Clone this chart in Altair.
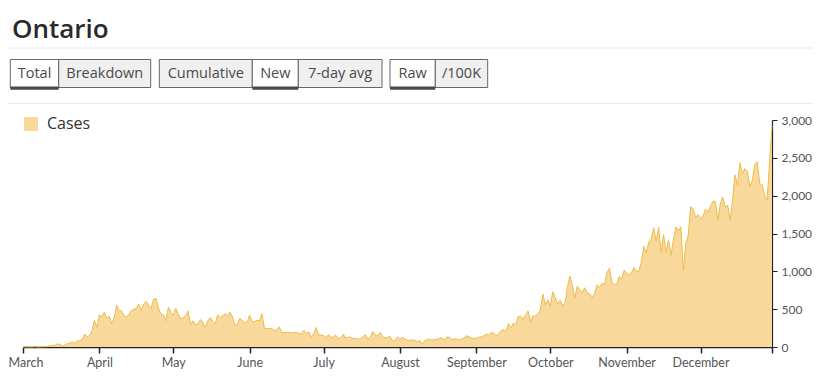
import altair as alt
import pandas as pd

# ---- data: Ontario daily new COVID-19 cases, 1 Mar - 30 Dec 2020 ----
march = [0, 3, 2, 0, 2, 6, 0, 1, 3, 4, 5, 18, 20, 24, 42, 32, 12, 25, 44, 50, 69, 48, 78, 85,
         100, 170, 135, 151, 211, 351, 260]
april = [426, 401, 462, 375, 408, 309, 379, 550, 483, 478, 411, 401, 421, 483, 494, 514, 564, 485,
         568, 606, 551, 510, 634, 640, 511, 437, 424, 347, 525, 459]
may = [421, 511, 434, 370, 387, 412, 477, 294, 346, 294, 308, 361, 329, 258, 345, 391, 340, 304,
       427, 390, 413, 441, 412, 460, 404, 287, 292, 383, 344, 323, 326]
june = [420, 335, 338, 356, 344, 440, 243, 245, 240, 245, 215, 230, 265, 195, 190, 195, 190, 185,
        190, 195, 180, 175, 220, 180, 200, 125, 175, 257, 158, 158]
july = [153, 121, 165, 121, 138, 154, 112, 118, 170, 116, 130, 129, 111, 116, 102, 111, 135, 164,
        103, 135, 203, 165, 146, 195, 134, 119, 129, 137, 76, 89, 134]
august = [101, 129, 102, 91, 86, 95, 88, 70, 90, 33, 83, 95, 105, 88, 101, 100, 115, 125, 90, 130,
          131, 100, 105, 108, 95, 106, 118, 148, 138, 121, 114]
september = [114, 130, 132, 148, 169, 158, 190, 185, 149, 170, 213, 232, 204, 313, 251, 315, 293,
             401, 407, 365, 425, 478, 335, 409, 409, 435, 491, 700, 554, 625]
october = [538, 732, 653, 566, 615, 548, 583, 797, 939, 809, 649, 807, 746, 721, 783, 712, 704, 658,
           704, 821, 790, 841, 826, 978, 1042, 851, 827, 834, 934, 896, 1015]
november = [977, 948, 987, 1050, 998, 1003, 1132, 1328, 1242, 1388, 1426, 1575, 1396, 1581, 1248,
            1487, 1249, 1417, 1210, 1418, 1588, 1534, 1589, 1009, 1373, 1478, 1855, 1822, 1708, 1746]
december = [1707, 1723, 1824, 1780, 1859, 1924, 1925, 1676, 1890, 1983, 1848, 1873, 1677, 1940,
            2275, 2139, 2432, 2290, 2357, 2316, 2123, 2202, 2408, 2447, 2159, 2142, 2005, 1939,
            2430, 2923]

series_name = "Cases"
region_title = "Ontario"
y_ticks = [0, 500, 1000, 1500, 2000, 2500, 3000]
button_labels = ["Total", "Breakdown", "Cumulative", "New", "7-day avg", "Raw", "/100K"]
button_selected = ["Total", "New", "Raw"]

cases = march + april + may + june + july + august + september + october + november + december
dates = pd.date_range("2020-03-01", periods=len(cases), freq="D").strftime("%Y-%m-%d")
df = pd.DataFrame({"date": dates, "cases": cases, "series": series_name})

# ---- styling / layout ----
FONT = "Open Sans"
AXFONT = "Lato"
FILL = "#f9d89c"
STROKE = "#efbb4a"
W, H = 749, 227
# button edges (pixels relative to plot origin) - layout only
button_edges = [(-12.7, 35.7), (35.7, 127.7), (136.3, 229.3), (229.3, 275.3),
                (275.3, 359.0), (367.0, 412.3), (412.3, 464.7)]

tick_dates = [alt.DateTime(year=2020, month=m, date=1, utc=True) for m in range(3, 13)]
tick_dates.append(alt.DateTime(year=2020, month=12, date=30, utc=True))

x_enc = alt.X(
    "date:T",
    scale=alt.Scale(type="utc", nice=False),
    axis=alt.Axis(
        title=None, values=tick_dates, grid=False,
        labelExpr="utcdate(datum.value) == 1 ? utcFormat(datum.value, '%B') : ''",
        labelFont=AXFONT, labelFontSize=12.5, labelColor="#555", labelPadding=3,
        labelOverlap=False, labelFlush=True, labelFlushOffset=15,
        domainColor="#222", domainWidth=1.5, tickColor="#222", tickWidth=1.5, tickSize=6,
    ),
)
y_enc = alt.Y(
    "cases:Q",
    scale=alt.Scale(domain=[0, 3000], nice=False),
    axis=alt.Axis(
        title=None, orient="right", values=y_ticks, format=",.0f", grid=False,
        labelFont=AXFONT, labelFontSize=12, labelColor="#555", labelPadding=4,
        domainColor="#222", domainWidth=1.2, tickColor="#222", tickWidth=1, tickSize=5,
    ),
)

base = alt.Chart(df)
area = base.mark_area(opacity=1).encode(
    x=x_enc, y=y_enc,
    fill=alt.Fill("series:N", scale=alt.Scale(range=[FILL]),
                  legend=alt.Legend(title=None, orient="none", legendX=0, legendY=-4,
                                    symbolType="square", symbolSize=196, symbolStrokeWidth=0,
                                    symbolOpacity=1, labelFont=FONT, labelFontSize=16,
                                    labelColor="#333", labelOffset=8, padding=0)),
)
line = base.mark_line(color=STROKE, strokeWidth=1).encode(x=x_enc, y=y_enc)


def deco():
    return alt.Chart(pd.DataFrame({"k": [0]}))


layers = [area, line]
# title
layers.append(deco().mark_text(text=region_title, font=FONT, fontSize=26, fontWeight=600,
                               color="#2a2a2a", align="left", baseline="alphabetic")
              .encode(x=alt.value(-11), y=alt.value(-82)))
# separator lines
for yy in (-72, -16.5):
    layers.append(deco().mark_rule(color="#e9e9e9", strokeWidth=1)
                  .encode(x=alt.value(-15), x2=alt.value(790), y=alt.value(yy)))
# buttons
for label, (x0, x1) in zip(button_labels, button_edges):
    sel = label in button_selected
    layers.append(deco().mark_rect(fill="#ffffff" if sel else "#f0f0f0", stroke="#666",
                                   strokeWidth=1)
                  .encode(x=alt.value(x0), x2=alt.value(x1), y=alt.value(-60.5),
                          y2=alt.value(-32.5)))
for label, (x0, x1) in zip(button_labels, button_edges):
    if label in button_selected:
        layers.append(deco().mark_rect(fill="#4a4a4a")
                      .encode(x=alt.value(x0), x2=alt.value(x1), y=alt.value(-33.5),
                              y2=alt.value(-30.3)))
for label, (x0, x1) in zip(button_labels, button_edges):
    layers.append(deco().mark_text(text=label, font=FONT, fontSize=14.5, color="#4a4a4a",
                                   align="center", baseline="middle")
                  .encode(x=alt.value((x0 + x1) / 2), y=alt.value(-46.5)))

chart = alt.layer(*layers).properties(
    width=W, height=H,
    padding={"left": 15, "top": 112, "right": 41, "bottom": 24},
    autosize=alt.AutoSizeParams(type="none"),
).configure_view(stroke=None)

chart.save("out.html", embed_options={"renderer": "svg", "actions": False})
